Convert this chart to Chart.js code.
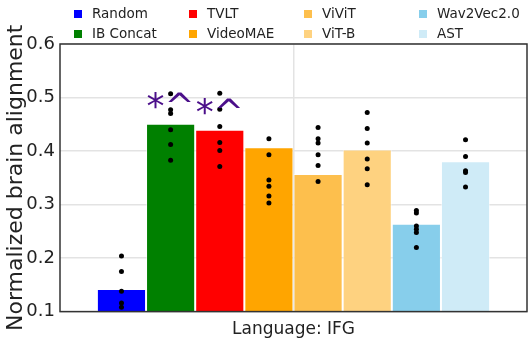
<!DOCTYPE html>
<html>
<head>
<meta charset="utf-8">
<script src="https://cdn.jsdelivr.net/npm/chart.js@4.4.1/dist/chart.umd.min.js"></script>
<style>
  html, body { margin: 0; padding: 0; background: #fff; }
  #wrap { width: 529px; height: 364px; }
</style>
</head>
<body>
<div id="wrap"><canvas id="alignChart" width="529" height="364"></canvas></div>
<script>
const categories = ['Language: IFG'];
const models = ['Random', 'IB Concat', 'TVLT', 'VideoMAE', 'ViViT', 'ViT-B', 'Wav2Vec2.0', 'AST'];
const means = [0.142, 0.451, 0.440, 0.407, 0.357, 0.403, 0.264, 0.381];
const subjectScores = [
  [0.204, 0.175, 0.138, 0.116, 0.108],
  [0.507, 0.477, 0.470, 0.440, 0.412, 0.383],
  [0.508, 0.478, 0.446, 0.416, 0.401, 0.371],
  [0.423, 0.393, 0.346, 0.334, 0.316, 0.303],
  [0.444, 0.423, 0.415, 0.393, 0.373, 0.343],
  [0.472, 0.442, 0.415, 0.385, 0.367, 0.337],
  [0.289, 0.284, 0.260, 0.254, 0.248, 0.220],
  [0.421, 0.390, 0.363, 0.360, 0.333]
];
const significance = ['', '*^', '*^', '', '', '', '', ''];
const yTicks = [0.1, 0.2, 0.3, 0.4, 0.5, 0.6];

const barColors = ['#0000ff', '#008000', '#ff0000', '#ffa500', '#fdbf4d', '#fed280', '#87ceeb', '#cfebf7'];
const FONT = 'DejaVu Sans, Verdana, sans-serif';

const overlay = {
  id: 'overlay',
  afterDatasetsDraw(chart) {
    const ctx = chart.ctx;
    const y = chart.scales.y;
    const area = chart.chartArea;
    ctx.save();
    // subject dots
    ctx.fillStyle = '#000';
    models.forEach((m, i) => {
      const bar = chart.getDatasetMeta(i).data[0];
      subjectScores[i].forEach(v => {
        ctx.beginPath();
        ctx.arc(bar.x, y.getPixelForValue(v), 2.5, 0, Math.PI * 2);
        ctx.fill();
      });
    });
    // significance marks
    ctx.fillStyle = '#4b0f8a';
    ctx.font = '36px ' + FONT;
    ctx.textAlign = 'center';
    ctx.textBaseline = 'alphabetic';
    significance.forEach((s, i) => {
      if (!s) return;
      const bar = chart.getDatasetMeta(i).data[0];
      ctx.fillText(s, bar.x, bar.y - 6);
    });
    // frame
    ctx.strokeStyle = '#333';
    ctx.lineWidth = 1.5;
    ctx.strokeRect(area.left, area.top, area.right - area.left, area.bottom - area.top);
    ctx.restore();
  },
  afterDraw(chart) {
    const ctx = chart.ctx;
    const area = chart.chartArea;
    ctx.save();
    ctx.font = '13.5px ' + FONT;
    ctx.textBaseline = 'middle';
    ctx.textAlign = 'left';
    models.forEach((m, i) => {
      const col = Math.floor(i / 2), row = i % 2;
      const x = area.left + 18 + col * 115;
      const yy = 14 + row * 20;
      ctx.fillStyle = barColors[i];
      ctx.fillRect(x - 4, yy - 4, 8, 8);
      ctx.fillStyle = '#222';
      ctx.fillText(m, x + 14, yy);
    });
    ctx.restore();
  }
};

new Chart(document.getElementById('alignChart').getContext('2d'), {
  type: 'bar',
  data: {
    labels: categories,
    datasets: models.map((m, i) => ({
      label: m,
      data: [means[i]],
      backgroundColor: barColors[i],
      borderColor: 'rgba(255,255,255,0.5)',
      borderWidth: 1,
      categoryPercentage: 0.842,
      barPercentage: 1.0
    }))
  },
  options: {
    responsive: false,
    animation: false,
    layout: { padding: { top: 44, right: 2, bottom: 16, left: 0 } },
    plugins: {
      legend: { display: false },
      tooltip: { enabled: false }
    },
    scales: {
      x: {
        grid: { offset: false, color: '#e3e3e3', lineWidth: 1.5, drawTicks: false },
        border: { display: false },
        ticks: { color: '#222', font: { family: FONT, size: 17 }, padding: 8 }
      },
      y: {
        min: 0.1,
        max: 0.6,
        afterBuildTicks: axis => { axis.ticks = yTicks.map(v => ({ value: v })); },
        afterFit: axis => { axis.width = 60; },
        grid: { color: '#e3e3e3', lineWidth: 1.5, drawTicks: false },
        border: { display: false },
        ticks: { color: '#222', font: { family: FONT, size: 18 }, padding: 5, callback: v => v.toFixed(1) },
        title: {
          display: true,
          text: 'Normalized brain alignment',
          color: '#222',
          font: { family: FONT, size: 22, lineHeight: 1.1 },
          padding: { top: 4, bottom: 0 }
        }
      }
    }
  },
  plugins: [overlay]
});
</script>
</body>
</html>
